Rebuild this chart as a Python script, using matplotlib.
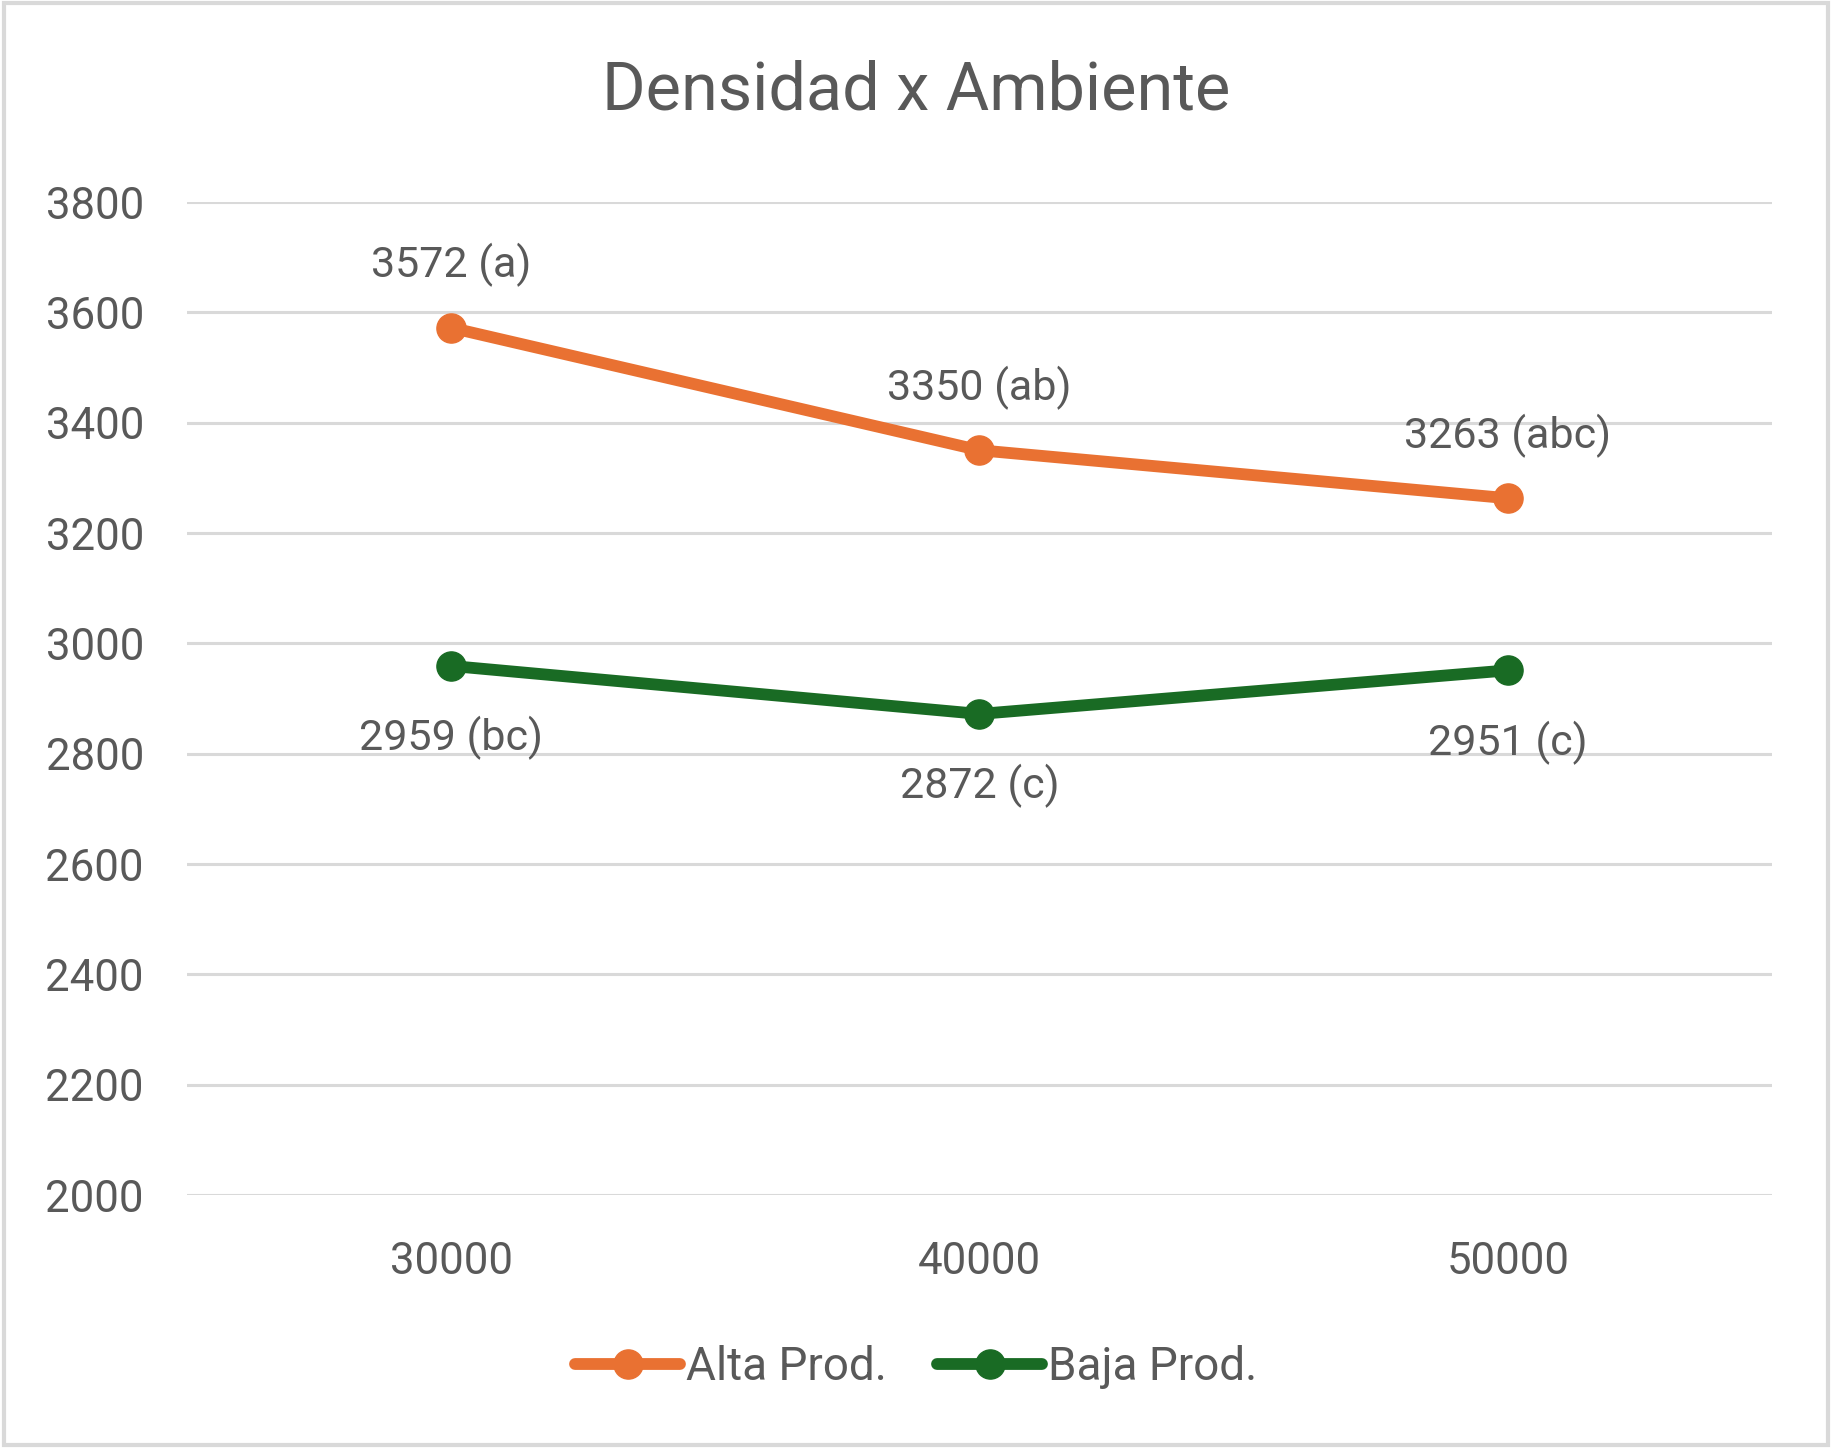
import matplotlib
matplotlib.use("Agg")
import matplotlib.pyplot as plt
from matplotlib.patches import Rectangle

categories = ["30000", "40000", "50000"]
alta = [3572, 3350, 3263]
baja = [2959, 2872, 2951]
alta_letters = ["(a)", "(ab)", "(abc)"]
baja_letters = ["(bc)", "(c)", "(c)"]
yticks = [2000, 2200, 2400, 2600, 2800, 3000, 3200, 3400, 3600, 3800]

ORANGE = "#E97132"
GREEN = "#196B24"
TXT = "#595959"
GRID = "#D9D9D9"

plt.rcParams['font.family'] = ['Roboto', 'DejaVu Sans']

fig = plt.figure(figsize=(18.32, 14.48), dpi=100)
W, H = 1832, 1448
left, right, top, bottom = 187, 1772, 202, 1195
ax = fig.add_axes([left / W, 1 - bottom / H, (right - left) / W, (bottom - top) / H])

x = list(range(len(categories)))
ax.plot(x, alta, color=ORANGE, lw=8.5, marker='o', ms=21, solid_capstyle='round', label="Alta Prod.", zorder=3)
ax.plot(x, baja, color=GREEN, lw=8.5, marker='o', ms=21, solid_capstyle='round', label="Baja Prod.", zorder=3)

for xi, v, l in zip(x, alta, alta_letters):
    ax.annotate(f"{v} {l}", (xi, v), xytext=(0, 45), textcoords='offset points',
                ha='center', va='center', fontsize=31, color=TXT)
for xi, v, l in zip(x, baja, baja_letters):
    ax.annotate(f"{v} {l}", (xi, v), xytext=(0, -52), textcoords='offset points',
                ha='center', va='center', fontsize=31, color=TXT)

ax.set_xlim(-0.5, 2.5)
ax.set_ylim(2000, 3800)
ax.set_yticks(yticks)
ax.set_xticks(x)
ax.set_xticklabels(categories)
ax.tick_params(axis='both', length=0, labelsize=31.5, labelcolor=TXT)
ax.tick_params(axis='y', pad=31)
ax.tick_params(axis='x', pad=33)
ax.grid(axis='y', color=GRID, lw=2.2)
ax.set_axisbelow(True)
for s in ax.spines.values():
    s.set_visible(False)

fig.text(0.5, 1 - 91 / H, "Densidad x Ambiente", ha='center', va='center',
         fontsize=48, color=TXT)

leg = fig.legend(loc='center', bbox_to_anchor=(0.5, 1 - 1367 / H), ncol=2, frameon=False,
                 fontsize=33, labelcolor=TXT, handlelength=2.3, handletextpad=0.12, columnspacing=1.1)

fig.patches.append(Rectangle((0.002, 0.002), 0.996, 0.996, transform=fig.transFigure,
                             fill=False, edgecolor=GRID, lw=3))

fig.savefig("out.png", dpi=100, facecolor='white')
